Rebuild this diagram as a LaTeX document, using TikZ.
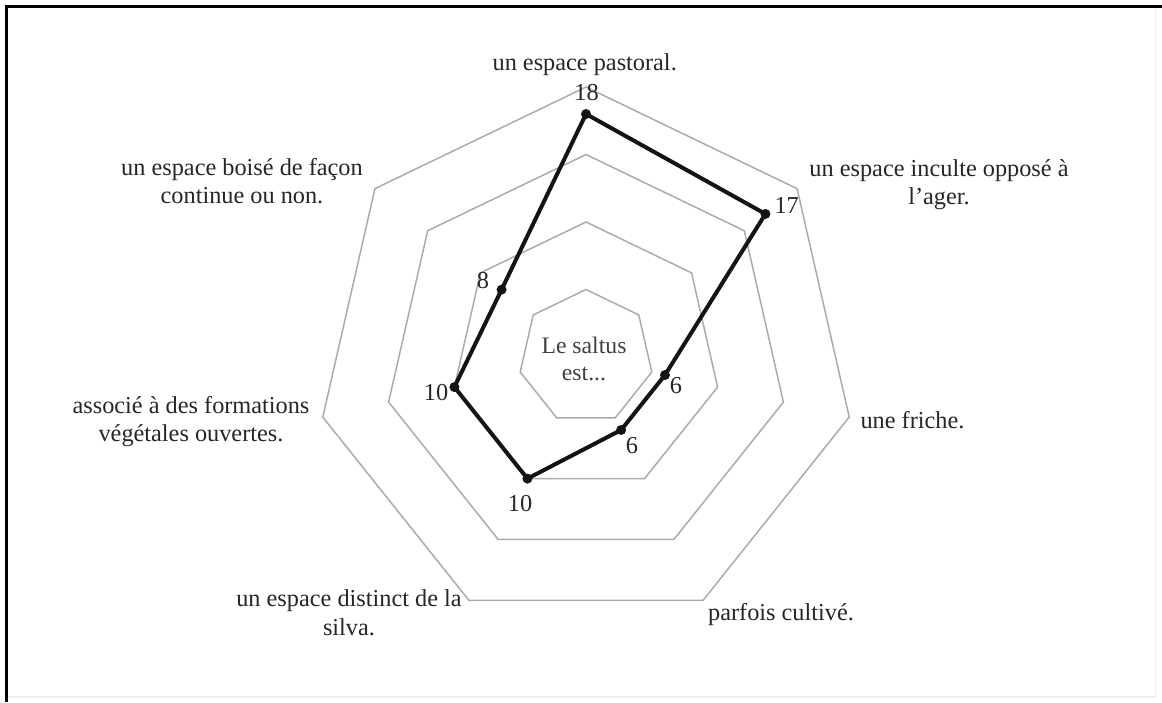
\documentclass[tikz,border=0pt]{standalone}
\usepackage{fontspec}
\setmainfont{Liberation Serif}
\begin{document}
\begin{tikzpicture}[x={(1pt,0)},y={(0,-1pt)},
  ring/.style={draw=black!33,line width=1.5pt,line join=miter},
  dataline/.style={draw=black!92,line width=4pt,line join=round},
  dot/.style={circle,fill=black!92,inner sep=0pt,minimum size=10pt},
  lbl/.style={font={\fontsize{24.3pt}{28.3pt}\selectfont},text=black!85,align=center,anchor=base,inner sep=0pt},
  val/.style={font={\fontsize{24.3pt}{28.3pt}\selectfont},text=black!85,anchor=base,inner sep=0pt},
  ctr/.style={font={\fontsize{23.7pt}{27.4pt}\selectfont},text=black!75,align=center,anchor=base,inner sep=0pt}]
\useasboundingbox (0,0) rectangle (1162,702);
\fill[white] (0,0) rectangle (1162,702);
% frame
\draw[black!7,line width=1.5pt] (1155.5,6.7) -- (1155.5,697) -- (6.7,697);
\draw[black,line width=3pt] (6.7,702) -- (6.7,6.7) -- (1162,6.7);
% rings
\foreach \r in {67.5,135,202.5,270}{
  \draw[ring] ({586+\r*cos(90)},{357-\r*sin(90)})
    \foreach \k in {1,...,6}{ -- ({586+\r*cos(90-\k*360/7)},{357-\r*sin(90-\k*360/7)}) } -- cycle;
}
% data points
\foreach \v [count=\k from 0] in {18,17,6,6,10,10,8}{
  \coordinate (p\k) at ({586+13.5*\v*cos(90-\k*360/7)},{357-13.5*\v*sin(90-\k*360/7)});
}
\draw[dataline] (p0) -- (p1) -- (p2) -- (p3) -- (p4) -- (p5) -- (p6) -- cycle;
\foreach \k in {0,...,6}{ \node[dot] (d\k) at (p\k) {}; }
% value labels
\node[val] (v0) at (586.5,100) {18};
\node[val] (v1) at (786.7,213) {17};
\node[val] (v2) at (676,393) {6};
\node[val] (v3) at (632,453) {6};
\node[val] (v4) at (520,511) {10};
\node[val] (v5) at (436,400) {10};
\node[val] (v6) at (483,288) {8};
% axis labels (base = baseline of last line)
\node[lbl] (a0) at (584.7,70) {un espace pastoral.};
\node[lbl] (a1) at (939,204.3) {un espace inculte opposé à\\l’ager.};
\node[lbl] (a2) at (912.5,428) {une friche.};
\node[lbl] (a3) at (781,620) {parfois cultivé.};
\node[lbl] (a4) at (349,635) {un espace distinct de la\\silva.};
\node[lbl] (a5) at (191,441.3) {associé à des formations\\végétales ouvertes.};
\node[lbl] (a6) at (242,203.3) {un espace boisé de façon\\continue ou non.};
% centre
\node[ctr] (c) at (584,380.4) {Le saltus\\est...};
\end{tikzpicture}
\end{document}
